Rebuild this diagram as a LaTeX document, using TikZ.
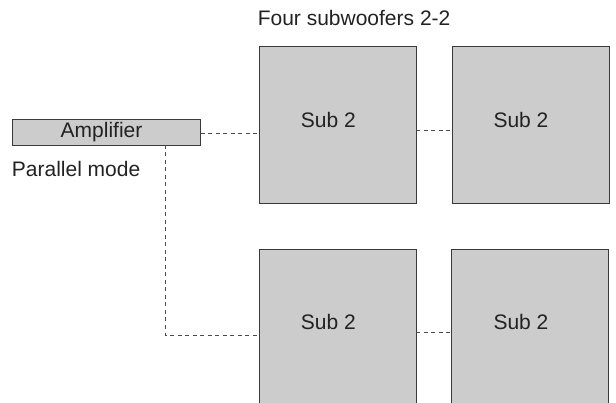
\documentclass[tikz,border=0pt]{standalone}
\usepackage{fontspec}
\setmainfont{Liberation Sans}
\usetikzlibrary{calc}
\definecolor{boxfill}{HTML}{CCCCCC}
\definecolor{boxline}{HTML}{3A3A3A}
\definecolor{wire}{HTML}{4A4A4A}
\definecolor{ink}{HTML}{222222}
\begin{document}
\begin{tikzpicture}[x=1pt,y=1pt,
  box/.style={draw=boxline,fill=boxfill,line width=0.9pt,inner sep=0pt,outer sep=0pt},
  sq/.style={box,minimum width=157pt,minimum height=157pt},
  txt/.style={font=\fontsize{21}{24}\selectfont,text=ink,inner sep=0pt,anchor=base west},
  wirestyle/.style={draw=wire,line width=0.9pt,dash pattern=on 4pt off 3.5pt}]
\useasboundingbox (0,0) rectangle (616,402);
\node[box,minimum width=188pt,minimum height=26pt] (amp) at (106.7,270) {};
\node[sq] (s1) at (337.8,276.8) {};
\node[sq] (s2) at (530.5,276.8) {};
\node[sq] (s3) at (337.6,74.5) {};
\node[sq] (s4) at (530.0,74.5) {};
\node[txt] (tamp) at (60.5,264.3) {Amplifier};
\node[txt] (t1) at (300.7,274.3) {Sub 2};
\node[txt] (t2) at (493.3,274.3) {Sub 2};
\node[txt] (t3) at (300.7,72.7) {Sub 2};
\node[txt] (t4) at (493.3,72.7) {Sub 2};
\node[txt] (pm) at (11.7,225.3) {Parallel mode};
\node[txt] (title) at (257.6,376) {Four subwoofers 2-2};
\coordinate (a1) at ($(amp.east)+(0,-1.3)$);
\draw[wirestyle] (a1) -- (a1 -| s1.west);
\coordinate (b1) at ($(s1.east)+(0,-5.1)$);
\draw[wirestyle] (b1) -- (b1 -| s2.west);
\coordinate (c0) at (165,0);
\coordinate (c1) at (s3.west);
\draw[wirestyle] (c0 |- amp.south) -- (c0 |- 0,67) -- ($(s3.west)+(0,-7.5)$);
\coordinate (d1) at ($(s3.east)+(0,-4.8)$);
\draw[wirestyle] (d1) -- (d1 -| s4.west);
\end{tikzpicture}
\end{document}
